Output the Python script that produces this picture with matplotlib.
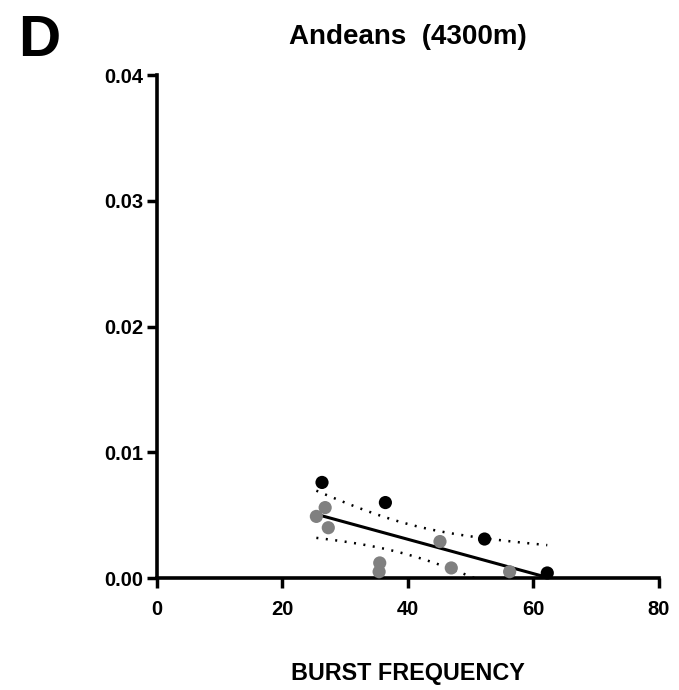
import numpy as np
import matplotlib.pyplot as plt

plt.rcParams['font.family'] = ['Liberation Sans', 'DejaVu Sans']
plt.rcParams['font.weight'] = 'bold'

# burst frequency vs. value, two subject groups
black_x = [26.3, 36.4, 52.2, 62.2]
black_y = [0.0076, 0.0060, 0.0031, 0.0004]
gray_x = [26.8, 25.4, 27.3, 45.1, 35.5, 35.4, 46.9, 56.2]
gray_y = [0.0056, 0.0049, 0.0040, 0.0029, 0.0012, 0.0005, 0.0008, 0.0005]

x_ticks = [0, 20, 40, 60, 80]
y_ticks = [0.00, 0.01, 0.02, 0.03, 0.04]

fig = plt.figure(figsize=(6.79, 6.90), dpi=100)
ax = fig.add_axes([0.2312, 0.1623, 0.7393, 0.7290])

# linear fit with 95% confidence band on all points
xs = np.array(black_x + gray_x)
ys = np.array(black_y + gray_y)
n = len(xs)
slope, intercept = np.polyfit(xs, ys, 1)
resid = ys - (slope * xs + intercept)
s_err = np.sqrt(np.sum(resid ** 2) / (n - 2))
t_crit = 2.228  # t(0.975, df=10)
xf = np.linspace(xs.min(), xs.max(), 100)
yf = slope * xf + intercept
half = t_crit * s_err * np.sqrt(1 / n + (xf - xs.mean()) ** 2 / np.sum((xs - xs.mean()) ** 2))

ax.plot(xf, yf, color='black', lw=2.2, zorder=3)
ax.plot(xf, yf + half, color='black', lw=1.8, ls=(0, (0.8, 3.0)), zorder=3)
ax.plot(xf, yf - half, color='black', lw=1.8, ls=(0, (0.8, 3.0)), zorder=3)

ax.scatter(gray_x, gray_y, s=90, color='#808080', edgecolors='none', zorder=4, clip_on=False)
ax.scatter(black_x, black_y, s=90, color='black', edgecolors='none', zorder=5, clip_on=False)

ax.set_xlim(0, 80)
ax.set_ylim(0, 0.04)
ax.set_xticks(x_ticks)
ax.set_yticks(y_ticks)
ax.set_xticklabels([str(v) for v in x_ticks])
ax.set_yticklabels(['%.2f' % v for v in y_ticks])
ax.tick_params(axis='both', direction='out', length=7, width=2.5, labelsize=14.5)
ax.tick_params(axis='x', pad=9)
ax.tick_params(axis='y', pad=3)

for side in ['top', 'right']:
    ax.spines[side].set_visible(False)
for side in ['left', 'bottom']:
    ax.spines[side].set_linewidth(2.6)

ax.set_xlabel('BURST FREQUENCY', fontsize=16.8, fontweight='bold', labelpad=31)
ax.set_title('Andeans  (4300m)', fontsize=20, fontweight='bold', pad=22)
fig.text(0.026, 0.901, 'D', fontsize=42, fontweight='bold', ha='left', va='bottom')

fig.savefig('out.png', dpi=100)
